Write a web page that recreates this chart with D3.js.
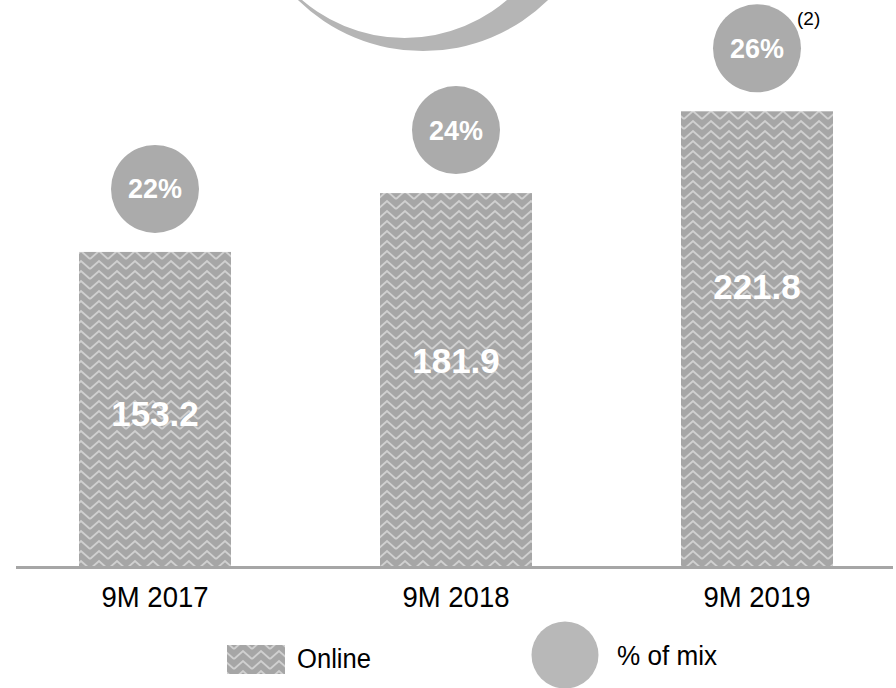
<!DOCTYPE html>
<html>
<head>
<meta charset="utf-8">
<script src="https://cdn.jsdelivr.net/npm/d3@7"></script>
<style>
  body { margin: 0; background: #fff; }
  text { font-family: "Liberation Sans", Arial, sans-serif; }
</style>
</head>
<body>
<div id="chart"></div>
<script>
// data
var categories = ["9M 2017", "9M 2018", "9M 2019"];
var online = [153.2, 181.9, 221.8];
var mixPct = ["22%", "24%", "26%"];
var legendLabels = ["Online", "% of mix"];

var width = 896, height = 688;
var baseY = 566;

var svg = d3.select("#chart")
  .append("svg")
  .attr("width", width)
  .attr("height", height);

// zigzag fill pattern
var defs = svg.append("defs");
var pat = defs.append("pattern")
  .attr("id", "zigzag")
  .attr("patternUnits", "userSpaceOnUse")
  .attr("width", 18)
  .attr("height", 10);
pat.append("rect").attr("width", 18).attr("height", 10).attr("fill", "#a6a6a6");
[-10, 0, 10].forEach(function (dy) {
  pat.append("path")
    .attr("d", "M0," + (9 + dy) + " L9," + (1 + dy) + " L18," + (9 + dy))
    .attr("fill", "none")
    .attr("stroke", "#d0d0d0")
    .attr("stroke-width", 1.8);
});

// decorative crescent at the top
svg.append("path")
  .attr("fill-rule", "evenodd")
  .attr("fill", "#b5b5b5")
  .attr("d", function () {
    var p = d3.path();
    p.moveTo(423 + 178.7, -127.7); p.arc(423, -127.7, 178.7, 0, 2 * Math.PI);
    p.moveTo(404.5 + 157.2, -119.2); p.arc(404.5, -119.2, 157.2, 0, 2 * Math.PI);
    return p.toString();
  });

// scales
var x = d3.scaleBand()
  .domain(categories)
  .range([-71.5, 983.5])
  .paddingInner(0.495)
  .paddingOuter(0.5);

var y = d3.scaleLinear()
  .domain([0, 250])
  .range([baseY, baseY - 250 * 2.05]);

var data = categories.map(function (c, i) {
  return { cat: c, value: online[i], pct: mixPct[i] };
});

// bars
svg.selectAll(".bar")
  .data(data)
  .enter()
  .append("rect")
  .attr("class", "bar")
  .attr("x", function (d) { return x(d.cat); })
  .attr("width", x.bandwidth())
  .attr("y", function (d) { return y(d.value); })
  .attr("height", function (d) { return y(0) - y(d.value); })
  .attr("fill", "url(#zigzag)");

// value labels
svg.selectAll(".val")
  .data(data)
  .enter()
  .append("text")
  .attr("class", "val")
  .attr("x", function (d) { return x(d.cat) + x.bandwidth() / 2; })
  .attr("y", function (d) { return y(d.value) + 130 + 0.1 * (y(0) - y(d.value)); })
  .attr("dy", "0.35em")
  .attr("text-anchor", "middle")
  .attr("fill", "#fff")
  .style("font-size", "35px")
  .style("font-weight", "bold")
  .text(function (d) { return d.value.toFixed(1); });

// % of mix circles
var circ = svg.selectAll(".mix")
  .data(data)
  .enter()
  .append("g")
  .attr("class", "mix")
  .attr("transform", function (d) {
    return "translate(" + (x(d.cat) + x.bandwidth() / 2) + "," + (y(d.value) - 63) + ")";
  });
circ.append("circle").attr("r", 44).attr("fill", "#ababab");
circ.append("text")
  .attr("dy", "0.35em")
  .attr("text-anchor", "middle")
  .attr("fill", "#fff")
  .style("font-size", "27px")
  .style("font-weight", "bold")
  .text(function (d) { return d.pct; });

// footnote on last circle
var last = data[data.length - 1];
svg.append("text")
  .attr("x", x(last.cat) + x.bandwidth() / 2 + 40)
  .attr("y", y(last.value) - 63 - 23)
  .style("font-size", "19px")
  .attr("fill", "#000")
  .text("(2)");

// x axis
var xAxis = svg.append("g")
  .attr("transform", "translate(0," + baseY + ")")
  .call(d3.axisBottom(x).tickSize(0).tickPadding(0));
xAxis.select(".domain").remove();
xAxis.selectAll("text")
  .attr("y", 41)
  .attr("dy", 0)
  .attr("fill", "#000")
  .style("font-family", "'Liberation Sans', Arial, sans-serif")
  .style("font-size", "30px")
  .attr("textLength", 107)
  .attr("lengthAdjust", "spacingAndGlyphs");

svg.append("line")
  .attr("x1", 16).attr("x2", 893)
  .attr("y1", baseY + 1.5).attr("y2", baseY + 1.5)
  .attr("stroke", "#a6a6a6")
  .attr("stroke-width", 3);

// legend
svg.append("rect")
  .attr("x", 227).attr("y", 645)
  .attr("width", 58).attr("height", 29)
  .attr("fill", "url(#zigzag)");
svg.append("text")
  .attr("x", 297).attr("y", 668)
  .style("font-size", "27px")
  .attr("textLength", 74)
  .attr("lengthAdjust", "spacingAndGlyphs")
  .text(legendLabels[0]);

svg.append("circle")
  .attr("cx", 565).attr("cy", 655).attr("r", 33.5)
  .attr("fill", "#b8b8b8");
svg.append("text")
  .attr("x", 617).attr("y", 665)
  .style("font-size", "28px")
  .attr("textLength", 100)
  .attr("lengthAdjust", "spacingAndGlyphs")
  .text(legendLabels[1]);
</script>
</body>
</html>
